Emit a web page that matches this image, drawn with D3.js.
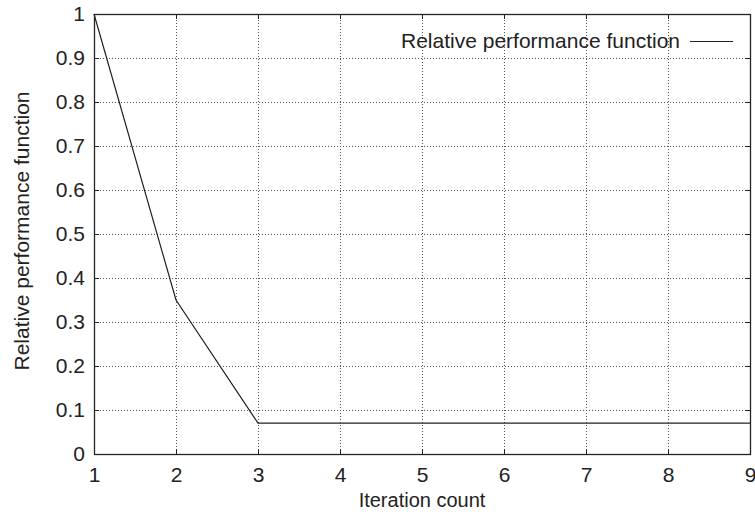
<!DOCTYPE html>
<html>
<head>
<meta charset="utf-8">
<script src="https://cdn.jsdelivr.net/npm/d3@7"></script>
<style>
  body { margin: 0; background: #fff; }
  text { font-family: "Liberation Sans", Arial, sans-serif; fill: #222; }
</style>
</head>
<body>
<div id="chart"></div>
<script>
// data
const iterations = [1, 2, 3, 4, 5, 6, 7, 8, 9];
const perfValues = [1, 0.35, 0.07, 0.07, 0.07, 0.07, 0.07, 0.07, 0.07];
const xTicks = [1, 2, 3, 4, 5, 6, 7, 8, 9];
const yTicks = [0, 0.1, 0.2, 0.3, 0.4, 0.5, 0.6, 0.7, 0.8, 0.9, 1];
const seriesName = "Relative performance function";
const xTitle = "Iteration count";
const yTitle = "Relative performance function";

const width = 755, height = 516;
const margin = { top: 14, right: 5, bottom: 62, left: 94 };
const innerW = width - margin.left - margin.right;
const innerH = height - margin.top - margin.bottom;

const svg = d3.select("#chart").append("svg")
  .attr("width", width)
  .attr("height", height);

const g = svg.append("g")
  .attr("transform", `translate(${margin.left},${margin.top})`);

const x = d3.scaleLinear().domain([1, 9]).range([0, innerW]);
const y = d3.scaleLinear().domain([0, 1]).range([innerH, 0]);

// dotted grid
g.append("g").selectAll("line")
  .data(xTicks.slice(1, -1))
  .join("line")
  .attr("x1", d => Math.round(x(d)) + 0.5).attr("x2", d => Math.round(x(d)) + 0.5)
  .attr("y1", 0).attr("y2", innerH)
  .attr("stroke", "#555").attr("stroke-width", 1).attr("stroke-dasharray", "1,2");

g.append("g").selectAll("line")
  .data(yTicks.slice(1, -1))
  .join("line")
  .attr("y1", d => Math.round(y(d)) + 0.5).attr("y2", d => Math.round(y(d)) + 0.5)
  .attr("x1", 0).attr("x2", innerW)
  .attr("stroke", "#555").attr("stroke-width", 1).attr("stroke-dasharray", "1,2");

// axes with inward ticks on all sides
const tickLen = 5;
const xAxis = g.append("g").attr("transform", `translate(0,${innerH})`)
  .call(d3.axisBottom(x).tickValues(xTicks).tickSizeInner(-tickLen).tickSizeOuter(0).tickPadding(13).tickFormat(d3.format("d")));
const yAxis = g.append("g")
  .call(d3.axisLeft(y).tickValues(yTicks).tickSizeInner(-tickLen).tickSizeOuter(0).tickPadding(9).tickFormat(d => d === 0 || d === 1 ? d : d3.format(".1f")(d)));
const xTop = g.append("g")
  .call(d3.axisTop(x).tickValues(xTicks).tickSizeInner(-tickLen).tickSizeOuter(0).tickFormat(""));
const yRight = g.append("g").attr("transform", `translate(${innerW},0)`)
  .call(d3.axisRight(y).tickValues(yTicks).tickSizeInner(-tickLen).tickSizeOuter(0).tickFormat(""));

[xAxis, yAxis, xTop, yRight].forEach(a => {
  a.select(".domain").remove();
  a.selectAll("line").attr("stroke", "#222");
  a.selectAll("text").attr("font-size", 21).attr("fill", "#222")
    .style("font-family", "'Liberation Sans', Arial, sans-serif");
});

// frame
g.append("rect")
  .attr("x", 0.5).attr("y", 0.5)
  .attr("width", innerW).attr("height", innerH)
  .attr("fill", "none").attr("stroke", "#222").attr("stroke-width", 1.3);

// series line
const line = d3.line().x((d, i) => x(iterations[i])).y(d => y(d));
g.append("path")
  .datum(perfValues)
  .attr("d", line)
  .attr("fill", "none")
  .attr("stroke", "#222")
  .attr("stroke-width", 1.2);

// legend
const legY = 27;
g.append("text")
  .attr("x", 586).attr("y", legY).attr("dy", "0.35em")
  .attr("text-anchor", "end").attr("font-size", 21)
  .text(seriesName);
g.append("line")
  .attr("x1", 596).attr("x2", 639)
  .attr("y1", legY + 0.5).attr("y2", legY + 0.5)
  .attr("stroke", "#222").attr("stroke-width", 1);

// axis titles
svg.append("text")
  .attr("x", margin.left + innerW / 2).attr("y", 507)
  .attr("text-anchor", "middle").attr("font-size", 20)
  .text(xTitle);
svg.append("text")
  .attr("transform", `translate(29,${margin.top + innerH / 2 - 3}) rotate(-90)`)
  .attr("text-anchor", "middle").attr("font-size", 21)
  .text(yTitle);
</script>
</body>
</html>
